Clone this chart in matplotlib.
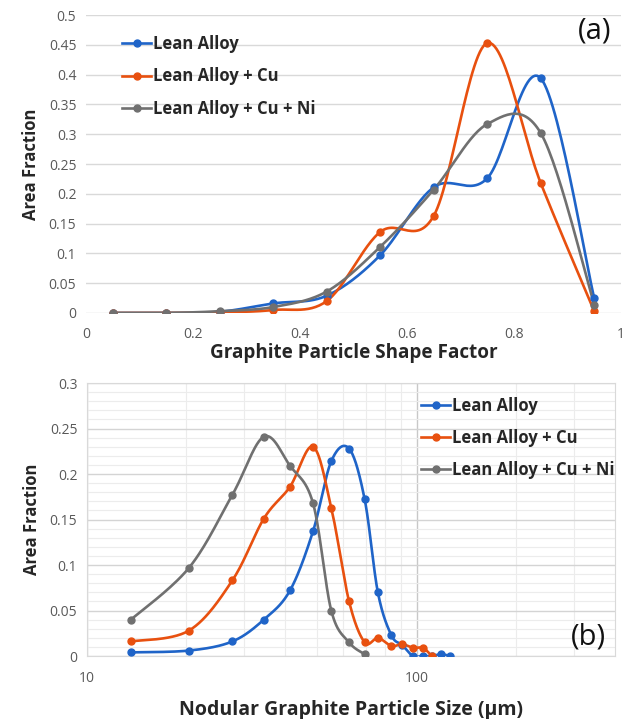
import numpy as np
import matplotlib
matplotlib.use("Agg")
import matplotlib.pyplot as plt
from matplotlib.ticker import FixedLocator, NullFormatter

plt.rcParams['font.family'] = ['Open Sans', 'DejaVu Sans']

# ---------------- data ----------------
series_names = ["Lean Alloy", "Lean Alloy + Cu", "Lean Alloy + Cu + Ni"]
colors = ["#1f64c8", "#e8500f", "#707070"]

# (a) shape factor distribution
shape_x = [0.05, 0.15, 0.25, 0.35, 0.45, 0.55, 0.65, 0.75, 0.85, 0.95]
shape_lean = [0.0, 0.0, 0.002, 0.016, 0.029, 0.097, 0.211, 0.226, 0.394, 0.025]
shape_cu = [0.0, 0.0, 0.001, 0.005, 0.020, 0.136, 0.163, 0.453, 0.218, 0.003]
shape_cuni = [0.0, 0.0, 0.003, 0.010, 0.036, 0.111, 0.207, 0.317, 0.302, 0.014]

# (b) nodular size distribution
size_lean_x = [13.6, 20.4, 27.6, 34.4, 41.3, 48.5, 55.1, 62.4, 69.6, 76.3, 83.8, 90.5, 97.5, 104.5, 111.2, 118.8, 126.0]
size_lean = [0.004, 0.006, 0.016, 0.040, 0.072, 0.137, 0.214, 0.228, 0.172, 0.070, 0.023, 0.012, 0.0, 0.0, 0.0, 0.002, 0.0]
size_cu_x = [13.6, 20.4, 27.6, 34.4, 41.3, 48.5, 55.1, 62.4, 69.6, 76.3, 83.8, 90.5, 97.5, 104.5, 111.2]
size_cu = [0.016, 0.028, 0.083, 0.151, 0.186, 0.230, 0.163, 0.060, 0.015, 0.020, 0.011, 0.013, 0.009, 0.009, 0.0]
size_cuni_x = [13.6, 20.4, 27.6, 34.4, 41.3, 48.5, 55.1, 62.4, 69.6]
size_cuni = [0.040, 0.097, 0.177, 0.241, 0.209, 0.168, 0.050, 0.015, 0.002]


def smooth(x, y, n=30):
    """Catmull-Rom style smoothing through the points (Excel-like)."""
    x = np.asarray(x, float)
    y = np.asarray(y, float)
    P = np.column_stack([x, y])
    Pe = np.vstack([P[0], P, P[-1]])
    out = []
    t = np.linspace(0, 1, n)[:, None]
    for i in range(len(P) - 1):
        p0, p1, p2, p3 = Pe[i], Pe[i + 1], Pe[i + 2], Pe[i + 3]
        c1 = p1 + (p2 - p0) / 6.0
        c2 = p2 - (p3 - p1) / 6.0
        seg = ((1 - t) ** 3) * p1 + 3 * ((1 - t) ** 2) * t * c1 + 3 * (1 - t) * t ** 2 * c2 + t ** 3 * p2
        out.append(seg if i == 0 else seg[1:])
    s = np.vstack(out)
    return s[:, 0], s[:, 1]


fig = plt.figure(figsize=(6.35, 7.19), dpi=100)
tick_color = "#595959"
label_color = "#262626"
lw = 1.9
ms = 5

# ---------------- (a) ----------------
ax1 = fig.add_axes([0.1354, 0.5647, 0.8425, 0.4144])
for yv, name, c in zip([shape_lean, shape_cu, shape_cuni], series_names, colors):
    sx, sy = smooth(shape_x, yv)
    ax1.plot(sx, sy, color=c, lw=lw, solid_capstyle='round', zorder=3)
    ax1.plot(shape_x, yv, 'o', color=c, ms=ms, zorder=4)
    ax1.plot([], [], '-o', color=c, lw=lw, ms=ms, label=name)
ax1.set_xlim(0, 1)
ax1.set_ylim(0, 0.5)
ax1.set_yticks(np.arange(0, 0.501, 0.05))
ax1.set_yticklabels(["0", "0.05", "0.1", "0.15", "0.2", "0.25", "0.3", "0.35", "0.4", "0.45", "0.5"])
ax1.set_xticks([0, 0.2, 0.4, 0.6, 0.8, 1.0])
ax1.set_xticklabels(["0", "0.2", "0.4", "0.6", "0.8", "1"])
ax1.grid(axis='y', color='#d9d9d9', lw=1.0, zorder=0)
for s in ax1.spines.values():
    s.set_visible(False)
ax1.tick_params(length=0, labelsize=10, colors=tick_color, pad=10)
ax1.tick_params(axis='y', pad=7)
ax1.set_xlabel("Graphite Particle Shape Factor", fontsize=13.6, fontweight='bold', color=label_color, labelpad=1)
ax1.set_ylabel("Area Fraction", fontsize=12, fontweight='bold', color=label_color, labelpad=6)
leg1 = ax1.legend(loc='upper left', bbox_to_anchor=(0.055, 0.955), frameon=False, fontsize=12,
                  handlelength=1.75, handletextpad=0.12, labelspacing=0.86, borderaxespad=0)
for t in leg1.get_texts():
    t.set_fontweight('bold')
    t.set_color(label_color)
ax1.text(0.95, 0.945, "(a)", transform=ax1.transAxes, fontsize=21, ha='center', va='center',
         color='#111111')

# ---------------- (b) ----------------
ax2 = fig.add_axes([0.137, 0.0876, 0.8315, 0.3797])
for xv, yv, name, c in zip([size_lean_x, size_cu_x, size_cuni_x], [size_lean, size_cu, size_cuni], series_names, colors):
    lx = np.log10(xv)
    sx, sy = smooth(lx, yv)
    ax2.plot(10 ** sx, sy, color=c, lw=lw, solid_capstyle='round', zorder=3)
    ax2.plot(xv, yv, 'o', color=c, ms=ms, zorder=4)
    ax2.plot([], [], '-o', color=c, lw=lw, ms=ms, label=name)
ax2.set_xscale('log')
ax2.set_xlim(10, 400)
ax2.set_ylim(0, 0.3)
ax2.xaxis.set_major_locator(FixedLocator([10, 100]))
ax2.xaxis.set_minor_locator(FixedLocator([20, 30, 40, 50, 60, 70, 80, 90, 200, 300]))
ax2.xaxis.set_minor_formatter(NullFormatter())
ax2.set_xticklabels(["10", "100"])
ax2.set_yticks(np.arange(0, 0.301, 0.05))
ax2.set_yticklabels(["0", "0.05", "0.1", "0.15", "0.2", "0.25", "0.3"])
ax2.yaxis.set_minor_locator(FixedLocator(np.arange(0.01, 0.3, 0.01)))
ax2.grid(axis='y', which='minor', color='#ececec', lw=0.8, zorder=0)
ax2.grid(axis='y', which='major', color='#d4d4d4', lw=1.0, zorder=0)
ax2.grid(axis='x', which='minor', color='#ececec', lw=0.8, zorder=0)
ax2.grid(axis='x', which='major', color='#c8c8c8', lw=1.0, zorder=0)
for s in ax2.spines.values():
    s.set_color('#d9d9d9')
ax2.tick_params(which='both', length=0, labelsize=10, colors=tick_color)
ax2.tick_params(axis='x', pad=11)
ax2.tick_params(axis='y', pad=7)
ax2.set_xlabel("Nodular Graphite Particle Size (µm)", fontsize=14, fontweight='bold', color=label_color, labelpad=10)
ax2.set_ylabel("Area Fraction", fontsize=12, fontweight='bold', color=label_color, labelpad=6)
leg2 = ax2.legend(loc='upper left', bbox_to_anchor=(0.62, 0.975), frameon=False, fontsize=12,
                  handlelength=1.75, handletextpad=0.12, labelspacing=0.86, borderaxespad=0)
for t in leg2.get_texts():
    t.set_fontweight('bold')
    t.set_color(label_color)
ax2.text(0.95, 0.07, "(b)", transform=ax2.transAxes, fontsize=21, ha='center', va='center',
         color='#111111')

fig.savefig("out.png", dpi=100)
